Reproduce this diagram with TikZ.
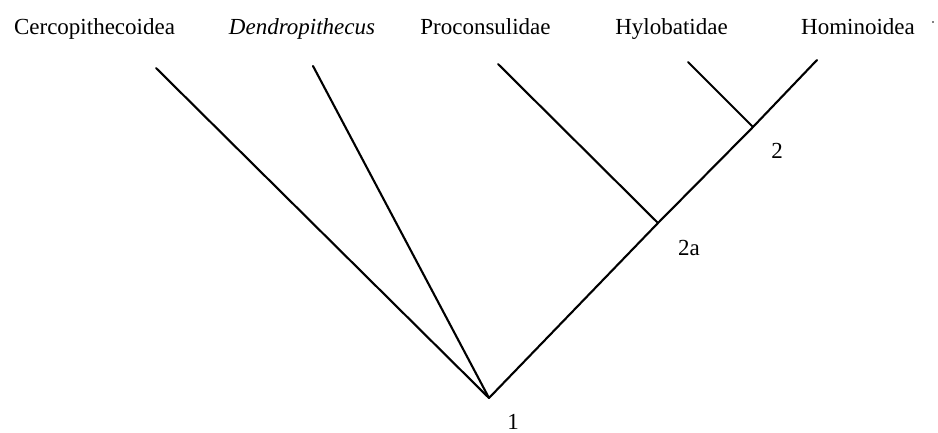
\documentclass[tikz,border=0pt]{standalone}
\usepackage{fontspec}
\setmainfont{Liberation Serif}
\begin{document}
\begin{tikzpicture}[x=1pt,y=-1pt,
  taxon/.style={anchor=base,inner sep=0pt,font=\fontsize{23}{27}\selectfont},
  numlab/.style={anchor=center,inner sep=0pt,font=\fontsize{23}{27}\selectfont},
  branch/.style={line width=2.1pt,line cap=round,line join=round}]
\useasboundingbox (0,0) rectangle (938,433);
% taxon labels
\node[taxon] (cerco) at (94.5,35) {Cercopithecoidea};
\node[taxon] (dendro) at (302,35) {\itshape Dendropithecus};
\node[taxon] (procon) at (485.5,35) {Proconsulidae};
\node[taxon] (hylo) at (671.5,35) {Hylobatidae};
\node[taxon] (homin) at (858,35) {Hominoidea};
% branch tips and nodes
\coordinate (tcerco) at (156,68);
\coordinate (tdendro) at (313,66);
\coordinate (tprocon) at (498,64);
\coordinate (thylo) at (688,62);
\coordinate (thomin) at (817,60);
\coordinate (root) at (489,398);
\coordinate (n2a) at (658,223);
\coordinate (n2) at (753,127);
% branches
\draw[branch] (tcerco) -- (root);
\draw[branch] (tdendro) -- (root);
\draw[branch] (root) -- (n2a) -- (n2) -- (thomin);
\draw[branch] (tprocon) -- (n2a);
\draw[branch] (thylo) -- (n2);
% node labels
\node[numlab] (l1) at (513,422) {1};
\node[numlab] (l2a) at (689,248) {2a};
\node[numlab] (l2) at (777,151) {2};
% stray dot
\fill (933,22) circle (0.9);
\end{tikzpicture}
\end{document}
